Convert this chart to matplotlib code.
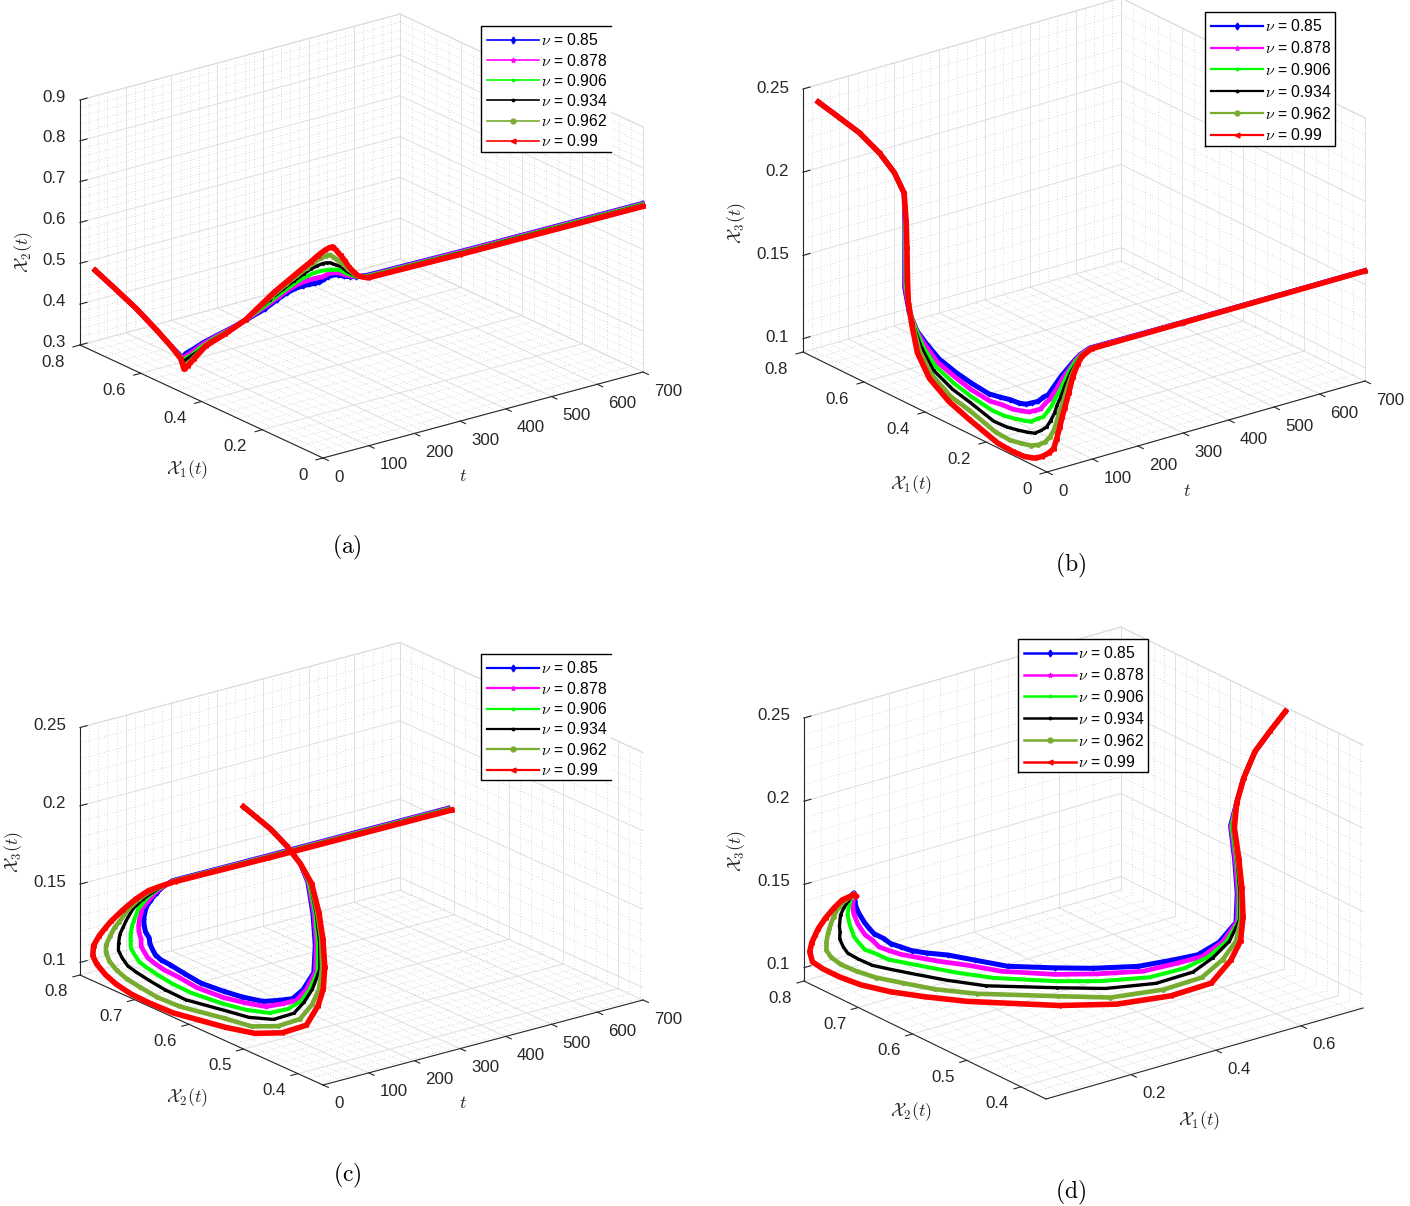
import numpy as np
import matplotlib
matplotlib.use('Agg')
import matplotlib.pyplot as plt
from matplotlib.lines import Line2D
from matplotlib.transforms import offset_copy
from mpl_toolkits.mplot3d import proj3d

plt.rcParams['font.family'] = ['Liberation Sans', 'DejaVu Sans']
plt.rcParams['mathtext.fontset'] = 'cm'

W, H = 1410, 1206

nu = ['0.85', '0.878', '0.906', '0.934', '0.962', '0.99']
colors = ['#0000ff', '#ff00ff', '#00ff00', '#000000', '#77ac30', '#ff0000']
markers = ['d', '*', '.', '.', 'o', '<']
widths = [3.6, 3.4, 2.9, 2.4, 3.3, 4.0]

t = [0, .8, 1.6, 2.5, 3.2, 3.8, 4.2, 4.6, 5, 5.5, 6, 6.6, 7.4, 8.6, 10, 13, 15, 17, 19.5, 22, 25, 28, 32, 36, 40, 44,
     52, 60, 70, 80, 100, 300, 700]

x1_085 = [.75, .685, .617, .552, .505, .474, .472, .473, .474, .46, .435, .405, .365, .31, .265,
          .21, .175, .145, .12, .10, .085, .07, .06, .05, .045, .04, .03, .02, .015, .012, .008, .004, .002]
x1_0878 = [.75, .685, .617, .552, .505, .474, .471, .472, .473, .46, .437, .41, .37, .314, .266,
           .206, .169, .138, .113, .093, .077, .063, .053, .044, .04, .035, .026, .018, .013, .011, .007, .004, .002]
x1_0906 = [.75, .685, .617, .552, .505, .474, .471, .471, .471, .461, .44, .415, .376, .318, .267,
           .2, .162, .13, .104, .084, .068, .054, .045, .037, .033, .029, .022, .015, .011, .009, .006, .003, .002]
x1_0934 = [.75, .685, .617, .552, .505, .474, .47, .469, .469, .462, .444, .421, .383, .323, .268,
           .194, .153, .12, .093, .073, .056, .043, .036, .029, .026, .022, .017, .012, .009, .008, .005, .003, .001]
x1_0962 = [.75, .685, .617, .552, .505, .474, .469, .468, .467, .462, .448, .428, .39, .328, .269,
           .187, .144, .11, .082, .062, .044, .032, .026, .021, .018, .015, .012, .008, .007, .006, .004, .002, .001]
x1_099 = [.75, .685, .617, .552, .505, .474, .468, .466, .465, .463, .453, .435, .397, .334, .27,
          .18, .135, .10, .07, .05, .032, .02, .016, .012, .01, .008, .006, .005, .004, .004, .003, .002, .001]

x2_085 = [.5, .477, .452, .422, .398, .385, .376, .372, .375, .395, .415, .44, .47, .51, .545, .589, .622, .649, .668,
          .68, .688, .695, .70, .71, .716, .72, .723, .72, .718, .716, .714, .713, .712]
x2_0878 = [.5, .477, .452, .422, .398, .384, .374, .37, .372, .389, .408, .433, .465, .506, .545, .597, .631, .66, .68,
           .694, .703, .711, .715, .722, .726, .728, .729, .724, .72, .717, .713, .712, .711]
x2_0906 = [.5, .477, .452, .422, .398, .383, .372, .367, .368, .383, .399, .424, .458, .502, .544, .606, .643, .672, .695,
           .71, .722, .73, .734, .737, .738, .738, .737, .729, .723, .717, .713, .711, .71]
x2_0934 = [.5, .477, .452, .422, .398, .381, .37, .364, .364, .378, .394, .413, .451, .497, .544, .617, .657, .688, .713,
           .731, .744, .753, .756, .757, .754, .752, .746, .735, .726, .718, .712, .71, .709]
x2_0962 = [.5, .477, .452, .422, .398, .38, .368, .361, .36, .366, .379, .402, .443, .492, .543, .628, .671, .704, .731,
           .751, .767, .776, .779, .775, .77, .765, .755, .742, .73, .719, .711, .708, .707]
x2_099 = [.5, .477, .452, .422, .398, .378, .365, .358, .355, .358, .368, .39, .435, .486, .542, .64, .685, .72, .75,
          .772, .79, .80, .802, .795, .787, .78, .765, .748, .733, .72, .71, .707, .705]

x3_085 = [.2467, .2435, .24, .2335, .226, .2165, .198, .178, .16, .146, .137, .132, .1265, .123, .121, .119, .12, .121,
          .121, .122, .124, .126, .129, .131, .134, .137, .143, .148, .152, .155, .158, .158, .158]
x3_0878 = [.2467, .2435, .24, .2335, .226, .2165, .198, .179, .161, .147, .137, .131, .124, .12, .117, .115, .116, .116,
           .117, .118, .12, .122, .126, .129, .132, .135, .142, .147, .152, .155, .158, .158, .158]
x3_0906 = [.2467, .2435, .24, .2335, .226, .2165, .199, .18, .162, .148, .138, .129, .121, .116, .113, .11, .11, .111,
           .112, .113, .116, .118, .122, .126, .13, .133, .14, .147, .152, .155, .158, .158, .158]
x3_0934 = [.2467, .2435, .24, .2335, .226, .2165, .199, .181, .164, .149, .138, .128, .118, .112, .109, .104, .104, .105,
           .106, .107, .11, .113, .117, .122, .127, .131, .139, .146, .151, .155, .158, .158, .158]
x3_0962 = [.2467, .2435, .24, .2335, .226, .2165, .2, .183, .165, .151, .139, .126, .115, .107, .104, .098, .097, .098,
           .099, .101, .104, .108, .112, .118, .124, .128, .137, .145, .151, .155, .158, .158, .158]
x3_099 = [.2467, .2435, .24, .2335, .226, .2165, .2, .184, .167, .1524, .14, .124, .112, .1035, .0985, .092, .091, .091,
          .0925, .095, .0985, .102, .108, .115, .121, .126, .135, .144, .151, .155, .158, .158, .158]

X1 = [x1_085, x1_0878, x1_0906, x1_0934, x1_0962, x1_099]
X2 = [x2_085, x2_0878, x2_0906, x2_0934, x2_0962, x2_099]
X3 = [x3_085, x3_0878, x3_0906, x3_0934, x3_0962, x3_099]
T = [t] * 6

t_ticks = [0, 100, 200, 300, 400, 500, 600, 700]
x1_ticks = [0, 0.2, 0.4, 0.6, 0.8]
x2_ticks = [0.4, 0.5, 0.6, 0.7, 0.8]
x2z_ticks = [0.3, 0.4, 0.5, 0.6, 0.7, 0.8, 0.9]
x3_ticks = [0.1, 0.15, 0.2, 0.25]


def fmt(v):
    return ('%g' % v)


def make_axes(fig, F, L, R, h):
    # work out view and box aspect from where the box corners sit in pixels
    ax_, ay_ = R[0] - F[0], F[1] - R[1]
    bx_, by_ = F[0] - L[0], F[1] - L[1]
    sin_el = np.sqrt((ay_ / ax_) * (by_ / bx_))
    az_ = np.arctan(np.sqrt((by_ / bx_) / (ay_ / ax_)))
    S = 600.0
    # the 3d axes keep a 2d view of -0.095..0.09, so world zero is not mid-axes
    k = S / 1.85
    off = S * 0.095 / 0.185
    aspect = np.array([ax_ / np.sin(az_), bx_ / np.cos(az_), h / np.cos(np.arcsin(sin_el))]) / k
    zoom = np.linalg.norm(aspect) / (1.8294640721620434 * 25 / 24)
    cx = (L[0] + R[0]) / 2
    cy = (L[1] + R[1]) / 2 - h / 2
    ax = fig.add_axes([(cx - off) / W, 1 - (cy + off) / H, S / W, S / H],
                      projection='3d', proj_type='ortho', computed_zorder=False)
    ax.view_init(elev=np.degrees(np.arcsin(sin_el)), azim=-180 + np.degrees(az_))
    ax.set_box_aspect(aspect, zoom=zoom)
    ax.set_axis_off()
    ax.patch.set_visible(False)
    return ax


def grid_lines(ax, xlim, ylim, zlim, xt, yt, zt, xm, ym, zm):
    major = dict(color='#e2e2e2', lw=0.7, zorder=1)
    minor = dict(color='#bdbdbd', lw=0.5, ls=(0, (1, 3)), zorder=1)
    for ticks, style in ((xm, minor), (xt, major)):
        for v in ticks:
            ax.plot([v, v], ylim, [zlim[0], zlim[0]], **style)
            ax.plot([v, v], [ylim[1], ylim[1]], zlim, **style)
    for ticks, style in ((ym, minor), (yt, major)):
        for v in ticks:
            ax.plot(xlim, [v, v], [zlim[0], zlim[0]], **style)
            ax.plot([xlim[1], xlim[1]], [v, v], zlim, **style)
    for ticks, style in ((zm, minor), (zt, major)):
        for v in ticks:
            ax.plot(xlim, [ylim[1], ylim[1]], [v, v], **style)
            ax.plot([xlim[1], xlim[1]], ylim, [v, v], **style)
    # the three edges round the back that have no ticks
    edge = dict(color='#dcdcdc', lw=0.7, zorder=1)
    ax.plot(xlim, [ylim[1], ylim[1]], [zlim[1], zlim[1]], **edge)
    ax.plot([xlim[1], xlim[1]], ylim, [zlim[1], zlim[1]], **edge)
    ax.plot([xlim[1], xlim[1]], [ylim[1], ylim[1]], zlim, **edge)


def tick_label(ax, tr, x, y, z, s, ha):
    # plain 2d text at the projected spot of the tick
    px, py, _ = proj3d.proj_transform(x, y, z, ax.get_proj())
    ax.text2D(px, py, s, transform=tr, ha=ha, va='center', fontsize=12.2, color='#262626')


def axis_lines(fig, ax, xlim, ylim, zlim, xt, yt, zt, ylab_dx, zlab_dy):
    dark = dict(color='#262626', lw=0.8, zorder=2)
    ax.plot(xlim, [ylim[0], ylim[0]], [zlim[0], zlim[0]], **dark)
    ax.plot([xlim[0], xlim[0]], ylim, [zlim[0], zlim[0]], **dark)
    ax.plot([xlim[0], xlim[0]], [ylim[1], ylim[1]], zlim, **dark)
    dy_ = (ylim[1] - ylim[0]) * 0.022
    dx_ = (xlim[1] - xlim[0]) * 0.022
    for v in xt:
        ax.plot([v, v], [ylim[0], ylim[0] - dy_], [zlim[0], zlim[0]], **dark)
    for v in yt:
        ax.plot([xlim[0], xlim[0] - dx_], [v, v], [zlim[0], zlim[0]], **dark)
    for v in zt:
        ax.plot([xlim[0], xlim[0] + dx_], [ylim[1], ylim[1]], [v, v], **dark)
    tr = offset_copy(ax.transData, fig=fig, x=11, y=-19, units='dots')
    for v in xt:
        tick_label(ax, tr, v, ylim[0], zlim[0], fmt(v), 'left')
    tr = offset_copy(ax.transData, fig=fig, x=ylab_dx, y=-17, units='dots')
    for v in yt:
        tick_label(ax, tr, xlim[0], v, zlim[0], fmt(v), 'right')
    tr = offset_copy(ax.transData, fig=fig, x=-14, y=zlab_dy, units='dots')
    for v in zt:
        tick_label(ax, tr, xlim[0], ylim[1], v, fmt(v), 'right')


def legend_box(fig, x0, y0, x1, y1, right_edge, spacing, lw):
    handles = [Line2D([], [], color=colors[i], marker=markers[i], ms=3.5, lw=lw,
                      label=r'$\nu$ = ' + nu[i]) for i in range(6)]
    leg = fig.legend(handles=handles, loc='upper left', bbox_to_anchor=(x0 / W, 1 - y0 / H),
                     borderaxespad=0, borderpad=0.4, labelspacing=spacing, handlelength=3.3,
                     handletextpad=0.1, fontsize=11.3, frameon=False)
    fig.patches.append(plt.Rectangle((x0 / W, 1 - y1 / H), (x1 - x0) / W, (y1 - y0) / H, transform=fig.transFigure,
                                     facecolor='white', edgecolor='none', zorder=3))
    if right_edge:
        xs = [x0 / W, x0 / W, x1 / W, x1 / W, x0 / W]
        ys = [1 - y1 / H, 1 - y0 / H, 1 - y0 / H, 1 - y1 / H, 1 - y1 / H]
    else:
        xs = [x1 / W, x0 / W, x0 / W, x1 / W]
        ys = [1 - y0 / H, 1 - y0 / H, 1 - y1 / H, 1 - y1 / H]
    fig.add_artist(Line2D(xs, ys, color='black', lw=1.0, zorder=4))
    leg.set_zorder(5)


def panel(fig, corners, h, xdata, ydata, zdata, xlim, ylim, zlim, xt, yt, zt, xm, ym, zm, ylab_dx, zlab_dy):
    ax = make_axes(fig, corners[0], corners[1], corners[2], h)
    ax.set_xlim(xlim)
    ax.set_ylim(ylim)
    ax.set_zlim(zlim)
    grid_lines(ax, xlim, ylim, zlim, xt, yt, zt, xm, ym, zm)
    axis_lines(fig, ax, xlim, ylim, zlim, xt, yt, zt, ylab_dx, zlab_dy)
    for i in range(6):
        ax.plot(xdata[i], ydata[i], zdata[i], color=colors[i], lw=widths[i], marker=markers[i], ms=2.5,
                solid_joinstyle='round', zorder=3 + i)
    return ax


fig = plt.figure(figsize=(W / 100, H / 100), dpi=100)

t_minor = np.arange(0, 701, 20)
x1_minor = np.arange(0, 0.81, 0.04)
x2_minor = np.arange(0.36, 0.801, 0.02)
z_minor_a = np.arange(0.3, 0.901, 0.02)
z_minor = np.arange(0.1, 0.2501, 0.01)

panel(fig, ((323, 458), (80, 345), (643, 372)), 245, T, X1, X2,
      (0, 700), (0, 0.8), (0.3, 0.9), t_ticks, x1_ticks, x2z_ticks, t_minor, x1_minor, z_minor_a, -15, 3)
panel(fig, ((1047, 472), (803, 352), (1365, 381)), 263, T, X1, X3,
      (0, 700), (0, 0.8), (0.092, 0.25), t_ticks, x1_ticks, x3_ticks, t_minor, x1_minor, z_minor, -15, 1)
panel(fig, ((323, 1085), (80, 975), (643, 1000)), 247.5, T, X2, X3,
      (0, 700), (0.354, 0.8), (0.092, 0.25), t_ticks, x2_ticks, x3_ticks, t_minor, x2_minor, z_minor, -12, 2)
panel(fig, ((1046, 1099), (804, 981), (1363, 1008)), 263, X1, X2, X3,
      (0, 0.746), (0.354, 0.8), (0.092, 0.25), [0.2, 0.4, 0.6], x2_ticks, x3_ticks,
      np.arange(0, 0.74, 0.04), x2_minor, z_minor, -12, 3)

legend_box(fig, 481, 26, 611, 152, False, 0.27, 1.2)
legend_box(fig, 1205, 12, 1335, 146, True, 0.37, 1.6)
legend_box(fig, 481, 654, 611, 780, False, 0.28, 1.6)
legend_box(fig, 1018, 639, 1148, 772, True, 0.37, 1.8)

labels = [(24, 252, r'$\mathcal{X}_2(t)$', 90), (187, 470, r'$\mathcal{X}_1(t)$', 0), (463, 477, r'$t$', 0),
          (737, 223, r'$\mathcal{X}_3(t)$', 90), (911, 485, r'$\mathcal{X}_1(t)$', 0), (1187, 492, r'$t$', 0),
          (14, 852, r'$\mathcal{X}_3(t)$', 90), (187, 1098, r'$\mathcal{X}_2(t)$', 0), (463, 1104, r'$t$', 0),
          (737, 851, r'$\mathcal{X}_3(t)$', 90), (911, 1112, r'$\mathcal{X}_2(t)$', 0), (1199, 1121, r'$\mathcal{X}_1(t)$', 0)]
for x, y, s, rot in labels:
    fig.text(x / W, 1 - y / H, s, ha='center', va='center', rotation=rot, fontsize=13, color='#262626')

captions = [(347, 547, '(a)'), (1071, 565, '(b)'), (347, 1175, '(c)'), (1071, 1192, '(d)')]
for x, y, s in captions:
    fig.text(x / W, 1 - y / H, r'$\mathrm{' + s + '}$', ha='center', va='center', fontsize=17, color='black')

fig.savefig('out.png', dpi=100)
